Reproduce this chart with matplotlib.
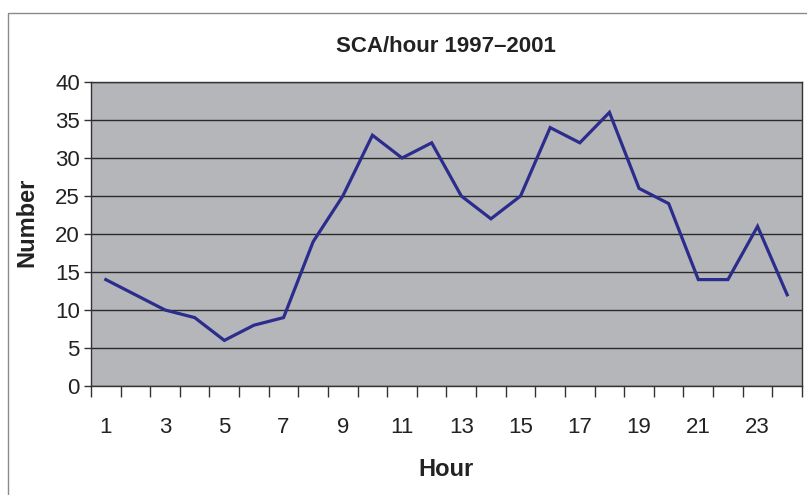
import matplotlib
matplotlib.use("Agg")
import matplotlib.pyplot as plt
from matplotlib.patches import Rectangle
from matplotlib.ticker import MultipleLocator, FixedLocator

hours = list(range(1, 25))
counts = [14, 12, 10, 9, 6, 8, 9, 19, 25, 33, 30, 32, 25, 22, 25, 34, 32, 36, 26, 24, 14, 14, 21, 12]
x_labels = [str(h) for h in range(1, 24, 2)]
title = "SCA/hour 1997\u20132001"

plt.rcParams['font.family'] = ['Liberation Sans', 'DejaVu Sans']

W, H = 807, 495
fig = plt.figure(figsize=(W/100, H/100), dpi=100)
fig.patch.set_facecolor('white')

# outer chart frame
frame = Rectangle((8/W, -0.2), 1.2, 1 - 13/H + 0.2, transform=fig.transFigure,
                  fill=False, edgecolor='#8a8a8a', linewidth=1.0)
fig.patches.append(frame)

ax = fig.add_axes([91/W, 1 - 386/H, 711/W, 304/H])
ax.set_facecolor('#b5b6ba')
ax.plot(hours, counts, color='#2b2c8c', linewidth=2.3, solid_joinstyle='miter', zorder=3)

ax.set_xlim(0.5, 24.5)
ax.set_ylim(0, 40)
ax.yaxis.set_major_locator(MultipleLocator(5))
ax.grid(axis='y', color='#2a2a2a', linewidth=1.0)
ax.set_axisbelow(True)

ax.xaxis.set_major_locator(FixedLocator(list(range(1, 24, 2))))
ax.set_xticklabels(x_labels)
ax.xaxis.set_minor_locator(FixedLocator([h + 0.5 for h in range(0, 25)]))
ax.tick_params(axis='x', which='major', length=0, pad=22, labelsize=16, labelcolor='#222222')
ax.tick_params(axis='x', which='minor', length=8, width=1, color='#333333', direction='out')
ax.tick_params(axis='y', which='major', length=5, width=1, color='#333333', pad=3,
               labelsize=16, labelcolor='#222222')

for s in ['top', 'right', 'left', 'bottom']:
    ax.spines[s].set_color('#333333')
    ax.spines[s].set_linewidth(1.0)

fig.text(446/W, 1 - 47/H, title, fontsize=16, fontweight='bold', color='#222222',
         ha='center', va='center')
fig.text(446/W, 1 - 470/H, 'Hour', fontsize=17, fontweight='bold', color='#222222',
         ha='center', va='center')
fig.text(27/W, 1 - 222/H, 'Number', fontsize=17, fontweight='bold', color='#222222',
         ha='center', va='center', rotation=90)

fig.savefig('out.png', dpi=100)
